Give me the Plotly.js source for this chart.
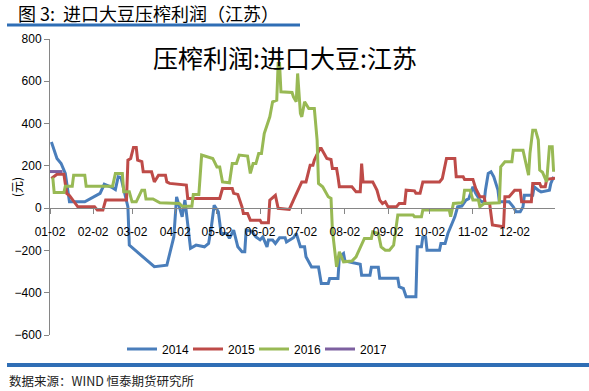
<!DOCTYPE html>
<html>
<head>
<meta charset="utf-8">
<script src="https://cdn.plot.ly/plotly-3.0.1.min.js"></script>
<style>html,body{margin:0;padding:0;background:#fff;}#chart{width:589px;height:391px;}</style>
</head>
<body>
<div id="chart"></div>
<script>
// Day offsets counted from 01-02, values in 元
const monthTicks = ['01-02','02-02','03-02','04-02','05-02','06-02','07-02','08-02','09-02','10-02','11-02','12-02'];

const days2014 = [1,5,8,11,14,25,36,39,44,47,49,51,56,57,75,84,89,91,95,97,101,105,111,114,116,118,121,123,127,129,132,135,138,140,141,145,148,151,153,156,157,160,162,165,169,170,175,177,178,180,183,184,188,193,195,200,201,207,208,211,212,218,223,224,230,231,236,237,250,251,254,256,263,264,267,268,270,271,280,281,284,286,288,291,293,296,299,301,304,306,309,312,313,315,317,319,322,323,330,333,335,338,340,341,347,348,351,353,359,360,362];
const vals2014 = [313,235,211,164,30,30,70,113,100,88,148,145,6,-175,-277,-270,-136,53,-41,38,-190,-175,-183,-167,-88,14,-17,-120,-120,-143,-104,-183,-206,-206,-104,-110,-136,-150,-136,-183,-151,-151,-167,-140,-140,-160,-140,-120,-140,-183,-183,-230,-278,-278,-356,-356,-333,-333,-230,-214,-250,-260,-265,-317,-317,-280,-280,-332,-332,-372,-380,-419,-419,-183,-183,-136,-136,-199,-199,-167,-167,-120,-88,-41,6,10,38,45,101,70,38,22,85,164,172,148,85,30,30,6,-17,-17,6,61,61,101,85,77,85,117,148];

const days2015 = [1,5,10,12,14,17,20,32,34,38,40,55,56,58,60,62,63,66,67,73,75,78,83,84,86,98,99,122,124,131,132,135,138,139,142,144,151,152,157,158,162,164,172,175,178,181,184,187,189,190,194,195,199,202,203,206,207,208,217,220,223,224,225,232,235,237,239,241,243,249,251,255,256,262,263,266,268,280,282,285,291,292,297,298,304,306,309,312,313,316,318,326,327,330,334,338,339,346,347,352,353,356,357,363];
const vals2015 = [140,160,160,70,60,30,6,6,-9,-9,38,38,227,235,287,287,227,220,172,172,124,156,156,124,117,109,46,46,93,93,70,65,6,-25,-25,-57,-57,-69,-69,38,61,-1,-6,38,85,124,124,203,203,227,282,282,235,230,188,188,148,101,101,77,77,211,124,124,85,38,22,30,6,6,22,22,85,82,70,70,124,124,140,235,235,148,148,136,136,93,54,54,22,22,-80,-88,54,54,85,85,30,30,117,117,101,101,136,142];

const days2016 = [2,3,10,11,16,17,25,26,45,47,52,53,57,59,62,66,68,69,74,79,93,95,102,103,107,109,117,120,122,124,129,131,134,136,142,144,146,148,150,152,154,158,160,163,164,165,166,174,175,177,178,180,181,183,186,190,192,193,196,200,202,203,206,208,211,217,220,223,226,231,232,236,238,241,244,247,248,250,261,262,267,268,287,288,290,296,297,298,302,304,308,309,312,323,324,327,332,333,340,344,345,347,349,351,352,354,357,359,361,362];
const vals2016 = [145,74,74,104,104,156,156,104,104,164,164,77,77,30,30,85,85,43,43,25,22,9,9,65,65,251,235,195,195,124,120,211,211,251,246,164,211,211,258,258,353,432,503,511,684,684,550,547,526,503,637,448,432,503,471,471,322,117,101,54,46,-104,-278,-206,-254,-250,-230,-183,-143,-143,-112,-120,-183,-199,-199,-175,-120,-33,-33,-41,-41,-9,-9,-41,22,25,35,85,85,38,38,6,22,25,195,219,219,274,274,156,259,369,369,322,180,170,124,290,290,172];

const days2017 = [0,9];
const vals2017 = [173,173];

const names = ['2014','2015','2016','2017'];
const colors = ['#4A7EBB','#BE4B48','#98B954','#7D60A0'];

const base = Date.UTC(2015,0,2);
const toDate = d => new Date(base + d*86400000).toISOString().slice(0,10);

const series = [[days2014,vals2014],[days2015,vals2015],[days2016,vals2016],[days2017,vals2017]];
const traces = series.map((s,i) => ({
  x: s[0].map(toDate), y: s[1], type: 'scatter', mode: 'lines', name: names[i],
  line: {color: colors[i], width: 3}
}));

// pixel -> paper helpers for decorations
const L=50, R=34, T=39, B=56, W=589, H=391;
const pw = W-L-R, ph = H-T-B;
const X = px => (px-L)/pw;
const Y = py => (H-B-py)/ph;

const layout = {
  width: W, height: H,
  margin: {l: L, r: R, t: T, b: B, pad: 0},
  paper_bgcolor: '#fff', plot_bgcolor: '#fff',
  font: {family: 'Liberation Sans, Arial, sans-serif', size: 12, color: '#000'},
  showlegend: true,
  legend: {orientation: 'h', x: X(254), xanchor: 'center', y: Y(349), yanchor: 'middle',
           font: {size: 12}, itemwidth: 30, entrywidth: 21, entrywidthmode: 'pixels',
           tracegroupgap: 0, bgcolor: 'rgba(0,0,0,0)'},
  xaxis: {
    type: 'date', range: [toDate(0), toDate(363)],
    tickvals: monthTicks.map(t => '2015-' + t), ticktext: monthTicks,
    anchor: 'free', position: 600/1400,
    showline: true, linecolor: '#868686', linewidth: 1,
    ticks: 'outside', ticklen: 5, tickcolor: '#868686',
    showgrid: false, zeroline: false, ticklabelstandoff: 7,
    tickfont: {size: 12}
  },
  yaxis: {
    range: [-600, 800], tickvals: [-600,-400,-200,0,200,400,600,800],
    showline: true, linecolor: '#868686', linewidth: 1,
    ticks: 'outside', ticklen: 5, tickcolor: '#868686',
    showgrid: false, zeroline: false, tickfont: {size: 12}
  },
  annotations: [
    {text: '压榨利润:进口大豆:江苏', x: X(285), y: Y(57), xref: 'paper', yref: 'paper',
     showarrow: false, xanchor: 'center', yanchor: 'middle',
     font: {family: 'Noto Sans CJK SC', size: 25, color: '#000'}},
    {text: '图 3:  进口大豆压榨利润（江苏）', x: X(16), y: Y(13), xref: 'paper', yref: 'paper',
     showarrow: false, xanchor: 'left', yanchor: 'middle',
     font: {family: 'Noto Sans CJK SC', size: 18, color: '#000'}},
    {text: '数据来源：WIND 恒泰期货研究所', x: X(7), y: Y(380), xref: 'paper', yref: 'paper',
     showarrow: false, xanchor: 'left', yanchor: 'middle',
     font: {family: 'Noto Sans CJK SC', size: 12.5, color: '#222'}},
    {text: '(元)', x: X(16), y: Y(187), xref: 'paper', yref: 'paper', textangle: -90,
     showarrow: false, xanchor: 'center', yanchor: 'middle',
     font: {family: 'Noto Sans CJK SC', size: 12, color: '#000'}}
  ],
  shapes: [
    {type: 'line', xref: 'paper', yref: 'paper', x0: X(7), x1: X(300), y0: Y(25), y1: Y(25),
     line: {color: '#2F6EB5', width: 3}},
    {type: 'line', xref: 'paper', yref: 'paper', x0: X(7), x1: X(589), y0: Y(365), y1: Y(365),
     line: {color: '#2F6EB5', width: 4}}
  ]
};

Plotly.newPlot('chart', traces, layout, {displayModeBar: false, staticPlot: true});
</script>
</body>
</html>
